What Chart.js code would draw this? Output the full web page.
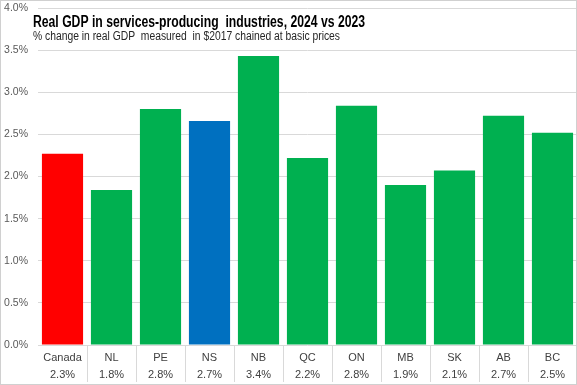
<!DOCTYPE html>
<html><head><meta charset="utf-8">
<script src="https://cdn.jsdelivr.net/npm/chart.js@4.4.1/dist/chart.umd.min.js"></script>
<style>html,body{margin:0;padding:0;background:#fff}#w{width:577px;height:385px;position:relative}</style>
</head><body><div id="w"><canvas id="c" width="577" height="385"></canvas></div>
<script>
const categories = ["Canada","NL","PE","NS","NB","QC","ON","MB","SK","AB","BC"];
const growth = [2.27, 1.84, 2.80, 2.66, 3.43, 2.22, 2.84, 1.90, 2.07, 2.72, 2.52];
const valueLabels = ["2.3%","1.8%","2.8%","2.7%","3.4%","2.2%","2.8%","1.9%","2.1%","2.7%","2.5%"];
const barColors = ["#FF0000","#00B050","#00B050","#0070C0","#00B050","#00B050","#00B050","#00B050","#00B050","#00B050","#00B050"];
const titleText = "Real GDP in services-producing  industries, 2024 vs 2023";
const subtitleText = "% change in real GDP  measured  in $2017 chained at basic prices";
const FONT = "'Liberation Sans', Arial, sans-serif";

function drawFitted(ctx, text, x, y, font, width){
  ctx.font = font;
  const w = ctx.measureText(text).width;
  ctx.save();
  ctx.translate(x, y);
  ctx.scale(width / w, 1);
  ctx.fillText(text, 0, 0);
  ctx.restore();
}

const deco = {
  id:'deco',
  afterDraw(chart){
    const ctx = chart.ctx, x = chart.scales.x, a = chart.chartArea;
    ctx.save();
    ctx.strokeStyle = '#d9d9d9'; ctx.lineWidth = 1;
    const half = (x.getPixelForTick(1) - x.getPixelForTick(0))/2;
    for(let i=0;i<categories.length-1;i++){
      const px = Math.round(x.getPixelForTick(i)+half)+0.5;
      ctx.beginPath(); ctx.moveTo(px, a.bottom); ctx.lineTo(px, a.bottom+37); ctx.stroke();
    }
    ctx.strokeStyle = '#d0d0d0';
    ctx.strokeRect(0.5,0.5,576,384);
    ctx.textBaseline='alphabetic'; ctx.textAlign='left';
    ctx.fillStyle = '#000';
    drawFitted(ctx, titleText, 33, 27, "bold 16px " + FONT, 332);
    ctx.fillStyle = '#262626';
    drawFitted(ctx, subtitleText, 33, 40, "12px " + FONT, 307);
    ctx.restore();
  }
};

function noPad(s){ s.paddingTop = 0; s.paddingBottom = 0; s.paddingLeft = 0; s.paddingRight = 0; }

new Chart(document.getElementById('c'), {
  type:'bar',
  data:{
    labels: categories.map((c,i)=>[c, valueLabels[i]]),
    datasets:[{data: growth, backgroundColor: barColors, categoryPercentage: 1, barPercentage: 0.84}]
  },
  options:{
    responsive:false, animation:false,
    layout:{padding:{left:2,right:0,top:8,bottom:3}},
    plugins:{legend:{display:false}, tooltip:{enabled:false}},
    scales:{
      x:{
        afterFit(s){ s.height = 37; noPad(s); },
        grid:{display:false},
        border:{display:false},
        ticks:{color:'#404040', font:{family:FONT, size:11, lineHeight:1.5}, padding:-3, maxRotation:0, autoSkip:false}
      },
      y:{
        min:0, max:4,
        afterFit(s){ s.width = 36; noPad(s); },
        grid:{color:'#d9d9d9', drawTicks:false},
        border:{display:false},
        ticks:{stepSize:0.5, color:'#595959', padding:10, font:{family:FONT, size:10.5}, callback:v=>v.toFixed(1)+'%'}
      }
    }
  },
  plugins:[deco]
});
</script></body></html>
